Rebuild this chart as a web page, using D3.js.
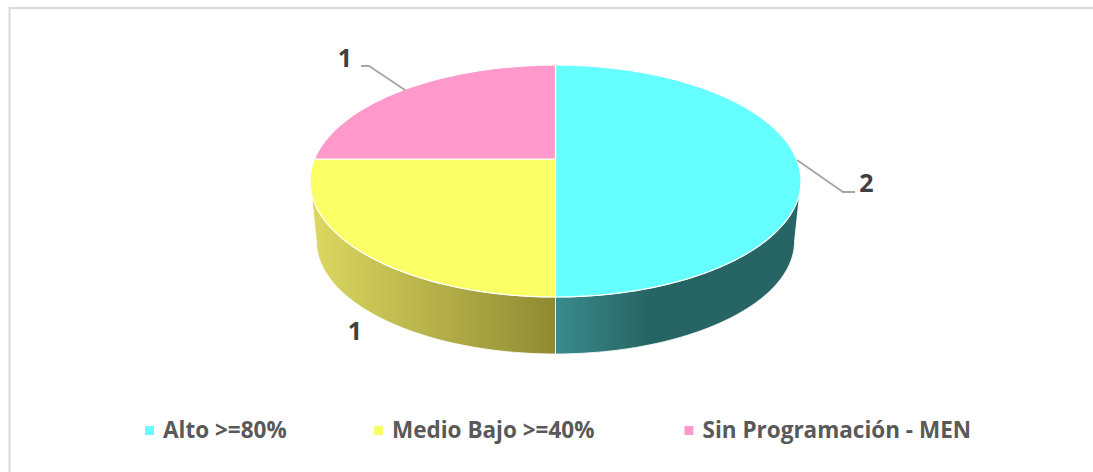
<!DOCTYPE html>
<html>
<head>
<meta charset="utf-8">
<script src="https://cdn.jsdelivr.net/npm/d3@7"></script>
<style>
  html, body { margin: 0; background: #fff; }
  svg { display: block; }
  text { font-family: "Open Sans", sans-serif; font-weight: 700; }
</style>
</head>
<body>
<svg width="1093" height="472"></svg>
<script>
const categories = ["Alto >=80%", "Medio Bajo >=40%", "Sin Programación - MEN"];
const values = [2, 1, 1];
const topColors = ["#66ffff", "#fbff66", "#ff99cc"];
const legendX = [145, 374, 684.5];

const svg = d3.select("svg");

// frame of the chart area, open on the right side
svg.append("path")
    .attr("d", "M1093,8H9.5V472")
    .attr("fill", "none")
    .attr("stroke", "#d9d9d9")
    .attr("stroke-width", 2);

// perspective of the pie disc: unit circle -> screen
const cx = 555.5, cy = 159;
const nearR = 138, farR = 94, sideR = 241;
const k = (nearR - farR) / (nearR + farR);
const a = nearR * (1 - k);
const depthShift = 60, depthScale = 0.974;
const ellipseCy = cy + (nearR - farR) / 2;

const project = function(angle, lower) {
    const u = Math.sin(angle), v = -Math.cos(angle);
    const w = 1 - k * v;
    const x = cx + sideR * u / w;
    const y = cy + a * v / w;
    if (!lower) return [x, y];
    return [cx + (x - cx) * depthScale, ellipseCy + (y - ellipseCy) * depthScale + depthShift];
};

const line = d3.line();
const sample = function(a0, a1, lower) {
    const n = Math.max(2, Math.ceil(Math.abs(a1 - a0) * 60));
    return d3.range(n + 1).map(function(i) {
        return project(a0 + (a1 - a0) * i / n, lower);
    });
};

const slices = d3.pie().sort(null)(values);

// gradients for the side wall
const defs = svg.append("defs");
const wallStops = [
    [["0%", "#3a8a8c"], ["38%", "#266563"], ["100%", "#266563"]],
    [["0%", "#8f8a33"], ["100%", "#dcd860"]]
];
const wallRange = [[556, 801], [556, 311]];
wallStops.forEach(function(stops, i) {
    const g = defs.append("linearGradient")
        .attr("id", "wall" + i)
        .attr("gradientUnits", "userSpaceOnUse")
        .attr("x1", wallRange[i][0]).attr("x2", wallRange[i][1])
        .attr("y1", 0).attr("y2", 0);
    stops.forEach(function(s) {
        g.append("stop").attr("offset", s[0]).attr("stop-color", s[1]);
    });
});

// the rim is only visible between the two extreme points of the ellipse
const rimStart = Math.acos(-k), rimEnd = 2 * Math.PI - rimStart;

slices.forEach(function(d, i) {
    const from = Math.max(d.startAngle, rimStart);
    const to = Math.min(d.endAngle, rimEnd);
    if (to <= from) return;
    const pts = sample(from, to, false).concat(sample(to, from, true));
    svg.append("path")
        .attr("d", line(pts) + "Z")
        .attr("fill", "url(#wall" + i + ")")
        .attr("stroke", "#fff")
        .attr("stroke-width", 1)
        .attr("stroke-opacity", 0.8);
});

slices.forEach(function(d, i) {
    const pts = [[cx, cy]].concat(sample(d.startAngle, d.endAngle, false));
    svg.append("path")
        .attr("d", line(pts) + "Z")
        .attr("fill", topColors[i])
        .attr("stroke", "#fff")
        .attr("stroke-width", 1.2);
});

// leader lines and data labels
svg.append("path")
    .attr("d", "M361,66H369L405,90M797,160L843,192H855")
    .attr("fill", "none")
    .attr("stroke", "#a6a6a6")
    .attr("stroke-width", 1.8);

const labelPos = [[866.5, 192], [355, 340], [345, 67]];
values.forEach(function(v, i) {
    svg.append("text")
        .attr("x", labelPos[i][0]).attr("y", labelPos[i][1])
        .attr("text-anchor", "middle")
        .attr("font-size", 25)
        .attr("fill", "#404040")
        .text(v);
});

// legend
categories.forEach(function(c, i) {
    svg.append("rect")
        .attr("x", legendX[i]).attr("y", 426)
        .attr("width", 9).attr("height", 9)
        .attr("fill", topColors[i]);
    svg.append("text")
        .attr("x", legendX[i] + 18).attr("y", 438)
        .attr("font-size", 22.5)
        .attr("fill", "#595959")
        .text(c);
});
</script>
</body>
</html>
